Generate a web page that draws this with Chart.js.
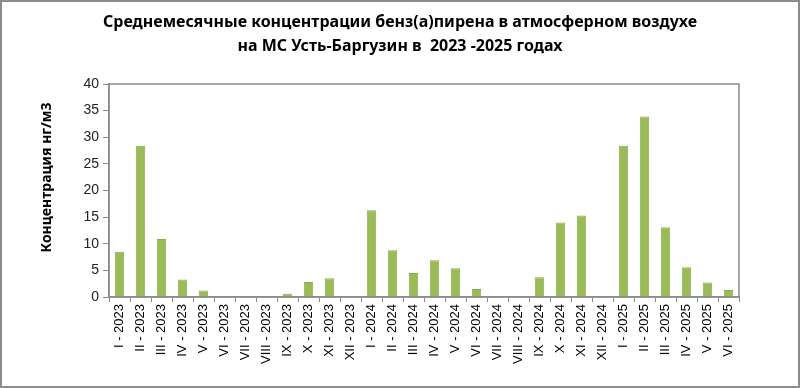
<!DOCTYPE html>
<html>
<head>
<meta charset="utf-8">
<script src="https://cdn.jsdelivr.net/npm/chart.js@4"></script>
<style>
  body { margin: 0; background: #fff; }
  #wrap { width: 800px; height: 388px; box-sizing: border-box; border: 2px solid #8c8c8c; }
  canvas { display: block; }
</style>
</head>
<body>
<div id="wrap"><canvas id="myChart" width="796" height="384"></canvas></div>
<script>
// подписи месяцев по оси X
var months = ['I','II','III','IV','V','VI','VII','VIII','IX','X','XI','XII'];
var years = ['2023','2024','2025'];
var labels = [];
for (const y in years) {
    for (const m in months) {
        if (years[y] == '2025' && m > 5) break;
        labels.push(months[m] + ' - ' + years[y]);
    }
}

// среднемесячные концентрации, нг/м3
var values2023 = [8.5, 28.4, 10.9, 3.3, 1.2, 0.1, 0.1, 0.1, 0.6, 2.8, 3.5, 0];
var values2024 = [16.3, 8.8, 4.5, 6.9, 5.4, 1.5, 0.1, 0.1, 3.7, 14.0, 15.3, 0];
var values2025 = [28.4, 33.9, 13.1, 5.6, 2.7, 1.3];
var values = values2023.concat(values2024, values2025);

var yTicks = [0, 5, 10, 15, 20, 25, 30, 35, 40];

var titleLines = [
    'Среднемесячные концентрации бенз(а)пирена в атмосферном воздухе',
    'на МС Усть-Баргузин в  2023 -2025 годах'
];
var yTitle = 'Концентрация нг/м3';

var fam = "'Liberation Sans', 'DejaVu Sans', sans-serif";
var famBold = "'Noto Sans', 'DejaVu Sans', sans-serif";

// рамка вокруг области построения + подпись оси Y
var frame = {
    id: 'frame',
    afterDatasetsDraw: function(chart) {
        var a = chart.chartArea;
        var ctx = chart.ctx;
        ctx.save();
        ctx.strokeStyle = '#8a8a8a';
        ctx.lineWidth = 1.5;
        ctx.strokeRect(a.left, a.top, a.right - a.left, a.bottom - a.top);
        ctx.translate(45, a.top + (a.bottom - a.top) / 2 - 13);
        ctx.rotate(-Math.PI / 2);
        ctx.fillStyle = '#000';
        ctx.font = "bold 14px " + famBold;
        ctx.textAlign = 'center';
        ctx.textBaseline = 'middle';
        ctx.fillText(yTitle, 0, 0);
        ctx.restore();
    }
};

var ctx = document.getElementById('myChart');
var myChart = new Chart(ctx, {
    type: 'bar',
    data: {
        labels: labels,
        datasets: [{
            data: values,
            backgroundColor: '#9bbb59',
            borderColor: '#8aab4c',
            borderWidth: 1,
            categoryPercentage: 1,
            barPercentage: 0.45
        }]
    },
    options: {
        responsive: false,
        animation: false,
        devicePixelRatio: 1,
        layout: { padding: 0 },
        plugins: {
            legend: { display: false },
            tooltip: { enabled: false },
            title: {
                display: true,
                text: titleLines,
                color: '#000',
                font: { family: famBold, size: 16, weight: 'bold', lineHeight: 24 / 16 },
                padding: { top: 8, bottom: 26 }
            }
        },
        scales: {
            x: {
                grid: { display: true, drawOnChartArea: false, tickLength: 5, color: '#8a8a8a' },
                border: { color: '#8a8a8a', width: 1.5 },
                ticks: {
                    color: '#000',
                    font: { family: fam, size: 13 },
                    minRotation: 90,
                    maxRotation: 90,
                    autoSkip: false,
                    padding: 2
                },
                afterFit: function(scale) { scale.height = 89; }
            },
            y: {
                min: 0,
                max: 40,
                afterBuildTicks: function(scale) {
                    scale.ticks = yTicks.map(function(v) { return { value: v }; });
                },
                grid: { display: true, drawOnChartArea: false, tickLength: 6, color: '#8a8a8a' },
                border: { color: '#8a8a8a', width: 1.5 },
                ticks: {
                    color: '#222',
                    font: { family: fam, size: 14 },
                    padding: 4
                },
                afterFit: function(scale) { scale.width = 107; }
            },
            // пустая ось справа, чтобы оставить поле и не сдвигать заголовок
            yr: {
                position: 'right',
                display: true,
                grid: { display: false },
                border: { display: false },
                ticks: { display: false },
                afterFit: function(scale) { scale.width = 59; }
            }
        }
    },
    plugins: [frame]
});
</script>
</body>
</html>
